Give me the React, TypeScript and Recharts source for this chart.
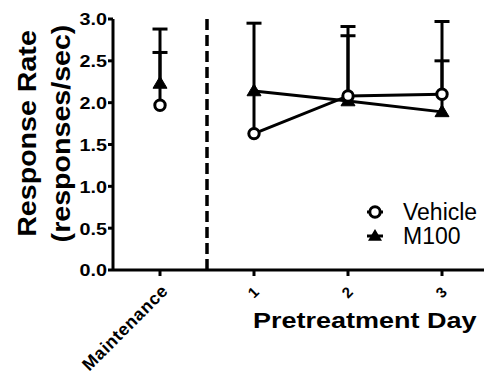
import React from 'react';
import { LineChart, Line, XAxis, YAxis, ErrorBar, ReferenceLine, Legend } from 'recharts';

const categories = ['Maintenance', '1', '2', '3'];
const xPositions = [0, 1, 2, 3];
const vehicleMean = [1.97, 1.63, 2.08, 2.1];
const m100Mean = [2.23, 2.14, 2.02, 1.89];
const vehicleUpper = [2.88, 2.95, 2.91, 2.97];
const m100Upper: (number | null)[] = [2.6, null, 2.8, 2.5];
const yTicks = [0, 0.5, 1, 1.5, 2, 2.5, 3];
const yTickLabels = ['0.0', '0.5', '1.0', '1.5', '2.0', '2.5', '3.0'];
const seriesNames = ['Vehicle', 'M100'];
const xTitle = 'Pretreatment Day';
const yTitle = ['Response Rate', '(responses/sec)'];

const FONT = '"Liberation Sans", Arial, Helvetica, sans-serif';

const err = (mean: number, up: number | null) => (up == null ? null : [0, +(up - mean).toFixed(3)]);

const rows = xPositions.map((x, i) => ({
  x,
  vehMaint: i === 0 ? vehicleMean[i] : null,
  vehDay: i > 0 ? vehicleMean[i] : null,
  m100Maint: i === 0 ? m100Mean[i] : null,
  m100Day: i > 0 ? m100Mean[i] : null,
  vehMaintErr: i === 0 ? err(vehicleMean[i], vehicleUpper[i]) : null,
  vehDayErr: i > 0 ? err(vehicleMean[i], vehicleUpper[i]) : null,
  m100MaintErr: i === 0 ? err(m100Mean[i], m100Upper[i]) : null,
  m100DayErr: i > 0 ? err(m100Mean[i], m100Upper[i]) : null,
}));

const CircleDot = (p: any) => {
  if (p.cy == null || p.value == null || isNaN(p.cy)) return <g key={`c${p.index}`} />;
  return <circle key={`c${p.index}`} cx={p.cx} cy={p.cy} r={5.2} fill="#fff" stroke="#000" strokeWidth={3} />;
};

const TriDot = (p: any) => {
  if (p.cy == null || p.value == null || isNaN(p.cy)) return <g key={`t${p.index}`} />;
  const { cx, cy } = p;
  return (
    <path
      key={`t${p.index}`}
      d={`M${cx},${cy - 7} L${cx + 7},${cy + 4.8} L${cx - 7},${cy + 4.8} Z`}
      fill="#000"
      stroke="#000"
      strokeWidth={1}
    />
  );
};

const XTick = (p: any) => {
  const idx = xPositions.indexOf(p.payload.value);
  const label = idx >= 0 ? categories[idx] : '';
  const big = idx === 0;
  return (
    <text
      transform={
        big
          ? `translate(${p.x + 9},${p.y + 14}) rotate(-45)`
          : `translate(${p.x + 6},${p.y + 15}) rotate(-45)`
      }
      textAnchor="end"
      fontFamily={FONT}
      fontWeight="bold"
      fontSize={big ? 17.5 : 15}
      letterSpacing={big ? 0.6 : 0}
      fill="#000"
    >
      {label}
    </text>
  );
};

const YTick = (p: any) => {
  const idx = yTicks.indexOf(p.payload.value);
  return (
    <text
      transform={`translate(${p.x},${p.y + 0.5}) scale(1.2,1)`}
      textAnchor="end"
      dy="0.36em"
      fontFamily={FONT}
      fontWeight="bold"
      fontSize={16.5}
      fill="#000"
    >
      {idx >= 0 ? yTickLabels[idx] : ''}
    </text>
  );
};

const YLabel = (props: any) => {
  const vb = props.viewBox || { x: 0, y: 11, width: 105, height: 251 };
  const cy = vb.y + vb.height / 2 - 11;
  const xs = [vb.x + 28, vb.x + 62];
  return (
    <g>
      {yTitle.map((t, i) => (
        <text
          key={t}
          transform={`translate(${xs[i]},${cy}) rotate(-90) scale(1.1,1)`}
          textAnchor="middle"
          fontFamily={FONT}
          fontWeight="bold"
          fontSize={26}
          fill="#000"
        >
          {t}
        </text>
      ))}
    </g>
  );
};

const XLabel = (props: any) => {
  const vb = props.viewBox || { x: 105, y: 262, width: 376, height: 108 };
  return (
    <text
      transform={`translate(${vb.x + 140},${vb.y + 58}) scale(1.2,1)`}
      textAnchor="start"
      fontFamily={FONT}
      fontWeight="bold"
      fontSize={22.5}
      fill="#000"
    >
      {xTitle}
    </text>
  );
};

const LegendContent = () => (
  <div style={{ fontFamily: FONT, fontSize: 23, color: '#000' }}>
    {seriesNames.map((n, i) => (
      <div key={n} style={{ display: 'flex', alignItems: 'center', height: 24, lineHeight: '24px' }}>
        <svg width={18} height={20} style={{ overflow: 'visible' }}>
          <line x1={1} x2={17} y1={10} y2={10} stroke="#000" strokeWidth={3} />
          {i === 0 ? (
            <circle cx={9} cy={10} r={5.2} fill="#fff" stroke="#000" strokeWidth={3} />
          ) : (
            <path d="M9,3 L16,14.8 L2,14.8 Z" fill="#000" />
          )}
        </svg>
        <span style={{ marginLeft: 19 }}>{n}</span>
      </div>
    ))}
  </div>
);

export default function App() {
  const axisStroke = { stroke: '#000', strokeWidth: 3 };
  return (
    <div style={{ width: 484, height: 370, position: 'relative' }}>
      <style>{`.recharts-errorBar line:nth-of-type(3){display:none}`}</style>
      <LineChart width={484} height={370} data={rows} margin={{ top: 11, right: 3, left: 0, bottom: 0 }}>
        <XAxis
          dataKey="x"
          type="number"
          domain={[-0.5, 3.5]}
          ticks={xPositions}
          interval={0}
          allowDataOverflow
          height={108}
          tickSize={6}
          tickMargin={2}
          axisLine={axisStroke}
          tickLine={axisStroke}
          tick={<XTick />}
          label={{ content: XLabel } as any}
        />
        <YAxis
          type="number"
          domain={[0, 3]}
          ticks={yTicks}
          interval={0}
          allowDataOverflow
          width={105}
          tickSize={5}
          tickMargin={1}
          axisLine={axisStroke}
          tickLine={axisStroke}
          tick={<YTick />}
          label={{ content: YLabel } as any}
        />
        <ReferenceLine
          segment={[{ x: 0.5, y: 0 }, { x: 0.5, y: 3.05 }]}
          stroke="#000"
          strokeWidth={3.5}
          strokeDasharray="11 5"
          ifOverflow="visible"
        />
        <Line dataKey="m100Maint" name="M100" stroke="#000" strokeWidth={3} dot={TriDot} activeDot={false} isAnimationActive={false} legendType="none">
          <ErrorBar dataKey="m100MaintErr" direction="y" width={7.5} stroke="#000" strokeWidth={3} isAnimationActive={false} />
        </Line>
        <Line dataKey="m100Day" name="M100" stroke="#000" strokeWidth={3} dot={TriDot} activeDot={false} isAnimationActive={false} legendType="none">
          <ErrorBar dataKey="m100DayErr" direction="y" width={7.5} stroke="#000" strokeWidth={3} isAnimationActive={false} />
        </Line>
        <Line dataKey="vehMaint" name="Vehicle" stroke="#000" strokeWidth={3} dot={CircleDot} activeDot={false} isAnimationActive={false} legendType="none">
          <ErrorBar dataKey="vehMaintErr" direction="y" width={7.5} stroke="#000" strokeWidth={3} isAnimationActive={false} />
        </Line>
        <Line dataKey="vehDay" name="Vehicle" stroke="#000" strokeWidth={3} dot={CircleDot} activeDot={false} isAnimationActive={false} legendType="none">
          <ErrorBar dataKey="vehDayErr" direction="y" width={7.5} stroke="#000" strokeWidth={3} isAnimationActive={false} />
        </Line>
        <Legend
          layout="vertical"
          align="center"
          verticalAlign="middle"
          content={<LegendContent />}
          wrapperStyle={{ left: 358, top: 192, width: 130, height: 50, right: 'auto', bottom: 'auto' }}
        />
      </LineChart>
    </div>
  );
}
